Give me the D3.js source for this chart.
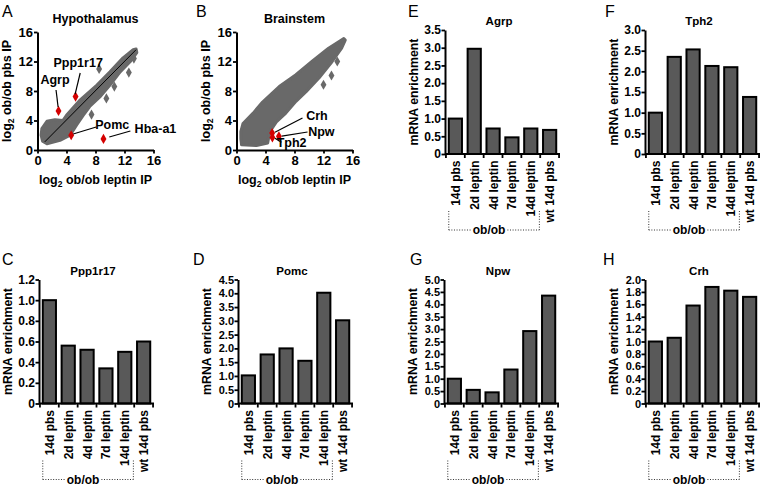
<!DOCTYPE html>
<html><head><meta charset="utf-8">
<script src="https://cdn.jsdelivr.net/npm/d3@7"></script>
<style>body{margin:0;background:#fff} text{font-family:Arial,"Liberation Sans",sans-serif}</style>
</head><body><svg id="c" width="760" height="489"></svg>
<script>
// ---------- data ----------
const categories = ["14d pbs","2d leptin","4d leptin","7d leptin","14d leptin","wt 14d pbs"];
const groupLabel = "ob/ob";
const agrpValues    = [1.0, 2.97, 0.72, 0.47, 0.72, 0.68];
const tph2Values    = [1.0, 2.35, 2.53, 2.13, 2.10, 1.38];
const ppp1r17Values = [1.0, 0.56, 0.52, 0.34, 0.50, 0.60];
const pomcValues    = [1.02, 1.78, 2.0, 1.55, 4.02, 3.02];
const npwValues     = [1.0, 0.55, 0.45, 1.37, 2.92, 4.35];
const crhValues     = [1.0, 1.06, 1.58, 1.88, 1.82, 1.72];
const scatterTicks = [0, 4, 8, 12, 16];

// scatter: outline of the dense point cloud (x = leptin IP, y = pbs IP, log2)
const hypoCloud = [[13.6,13.7],[13.2,13.6],[11.8,12.5],[10.0,10.6],[8.2,8.8],[5.9,6.8],[4.0,4.7],[3.5,4.0],[2.4,4.1],[1.3,3.9],[0.6,2.9],[0.5,2.0],[0.7,1.2],[1.3,0.85],[3.1,1.3],[4.5,2.0],[5.4,3.4],[6.3,4.7],[7.2,5.9],[8.6,7.2],[10.0,8.8],[11.4,10.6],[12.8,12.0],[13.7,13.2]];
const hypoOutliers = [[8.5,11.0],[12.6,10.5],[10.6,8.6],[9.5,7.0],[7.45,4.8],[13.3,12.4]];
const hypoGenes = ["Agrp","Ppp1r17","Pomc","Hba-a1"];
const hypoGeneX = [2.9, 5.25, 4.65, 9.1];
const hypoGeneY = [5.3, 7.25, 2.0, 1.5];
const hypoFit = [[1.0,1.1],[13.6,13.6]];

const brainCloud = [[14.8,15.1],[12.7,13.8],[10.4,12.0],[8.2,10.2],[5.9,8.6],[3.6,6.5],[2.3,5.0],[0.9,3.6],[0.6,2.5],[0.6,1.5],[0.7,0.7],[2.75,0.6],[4.3,0.95],[4.6,2.5],[5.5,3.8],[6.8,5.0],[8.2,6.6],[9.6,7.9],[11.4,9.8],[13.2,12.0],[14.5,13.8],[15.0,14.9]];
const brainOutliers = [[12.0,8.85],[13.1,10.1],[13.9,12.0]];
const brainGenes = ["Crh","Npw","Tph2"];
const brainGeneX = [4.92, 5.85, 4.95];
const brainGeneY = [2.3, 1.85, 1.7];

// label placement in data units: [textX, textY, lineX1, lineY1, lineX2, lineY2]
const hypoLabelPos = [[2.42,8.95,2.56,8.14,2.84,5.83],[5.61,11.25,5.89,10.44,5.19,7.59],[10.32,2.85,8.10,3.12,4.92,2.17],[16.27,2.31,12.81,2.58,9.90,1.76]];
const brainLabelPos = [[11.1,4.07,9.1,4.34,5.3,2.4],[11.7,1.95,9.8,2.44,6.25,1.88],[7.6,0.4,6.2,1.05,5.3,1.6]];

// ---------- drawing ----------
const svg = d3.select("#c");
svg.append("rect").attr("width",760).attr("height",489).attr("fill","#fff");
const BAR_FILL = "#595959", CLOUD = "#696969", RED = "#d40000";
const FF = 'Arial,"Liberation Sans",sans-serif';

function letter(t, x, y){
  svg.append("text").attr("x",x).attr("y",y).attr("font-size",16).attr("fill","#000").text(t);
}
function log2Title(g, x, y, rest, rotate){
  const t = g.append("text").attr("text-anchor","middle").attr("font-weight","bold").attr("font-size",12.5)
    .attr("transform", `translate(${x},${y})` + (rotate ? " rotate(-90)" : ""));
  t.append("tspan").text("log");
  t.append("tspan").attr("font-size",8.5).attr("dy",3).text("2");
  t.append("tspan").attr("dy",-3).text(" " + rest);
}

function scatterPanel(o){
  const g = svg.append("g");
  const x = d3.scaleLinear().domain([0,16]).range([o.x0, o.x0+116]);
  const y = d3.scaleLinear().domain([0,16]).range([150, 32]);
  const line = d3.line().x(d=>x(d[0])).y(d=>y(d[1])).curve(d3.curveLinearClosed);
  g.append("path").attr("d", line(o.cloud)).attr("fill",CLOUD).attr("stroke",CLOUD)
    .attr("stroke-width",3).attr("stroke-linejoin","round");
  const sym = d3.symbol(d3.symbolDiamond, 30);
  g.selectAll(".out").data(o.outliers).join("path").attr("d",sym)
    .attr("transform",d=>`translate(${x(d[0])},${y(d[1])})`).attr("fill",CLOUD);
  if (o.fit) g.append("path").attr("d", d3.line().x(d=>x(d[0])).y(d=>y(d[1]))(o.fit))
    .attr("stroke","#000").attr("stroke-width",1).attr("fill","none");
  g.selectAll(".hl").data(o.genes).join("path").attr("d",sym)
    .attr("transform",(d,i)=>`translate(${x(o.gx[i])},${y(o.gy[i])})`).attr("fill",RED);
  o.genes.forEach((gn,i)=>{
    const p = o.lab[i];
    g.append("line").attr("x1",x(p[2])).attr("y1",y(p[3])).attr("x2",x(p[4])).attr("y2",y(p[5]))
      .attr("stroke","#000").attr("stroke-width",1.2);
    g.append("text").attr("x",x(p[0])).attr("y",y(p[1])).attr("text-anchor","middle")
      .attr("font-weight","bold").attr("font-size",12.5).text(gn);
  });
  const ya = g.append("g").attr("transform",`translate(${o.x0},0)`)
    .call(d3.axisLeft(y).tickValues(scatterTicks).tickSize(3.5).tickPadding(1).tickSizeOuter(0));
  const xa = g.append("g").attr("transform",`translate(0,150)`)
    .call(d3.axisBottom(x).tickValues(scatterTicks).tickSize(3.5).tickPadding(2).tickSizeOuter(0));
  [ya,xa].forEach(a=>{
    a.select(".domain").attr("stroke-width",2).attr("stroke","#000");
    a.selectAll(".tick line").attr("stroke-width",1.8).attr("stroke","#000");
    a.selectAll("text").attr("font-size",13).attr("font-weight","bold").attr("fill","#000").attr("font-family",FF);
  });
  g.append("text").attr("x",(o.x0+o.x0+116)/2).attr("y",23).attr("text-anchor","middle")
    .attr("font-weight","bold").attr("font-size",12.5).text(o.title);
  log2Title(g, o.x0+58, 184, "ob/ob leptin IP", false);
  log2Title(g, o.x0-27, 91, "ob/ob pbs IP", true);
}

function barPanel(o){
  const g = svg.append("g");
  const x = d3.scaleBand().domain(categories).range([o.x0, o.x0+115]).paddingInner(0.3).paddingOuter(0.2);
  const y = d3.scaleLinear().domain([0,o.max]).range([o.y0, o.y0-124]);
  const n = Math.round(o.max/o.step);
  const ticks = d3.range(0,n+1).map(i=>+(i*o.step).toFixed(2));
  const tickFont = n > 8 ? 11 : 12;
  const bw = x.bandwidth();
  g.selectAll("rect").data(o.values).join("rect")
    .attr("x",(d,i)=>x(categories[i])).attr("y",d=>y(d))
    .attr("width",bw).attr("height",d=>o.y0-y(d))
    .attr("fill",BAR_FILL).attr("stroke","#000").attr("stroke-width",2);
  const ya = g.append("g").attr("transform",`translate(${o.x0},0)`)
    .call(d3.axisLeft(y).tickValues(ticks).tickFormat(d=>d===0?"0":d.toFixed(1))
      .tickSize(3.5).tickPadding(0.5).tickSizeOuter(0));
  ya.select(".domain").attr("stroke-width",2).attr("stroke","#000");
  ya.selectAll(".tick line").attr("stroke-width",1.8).attr("stroke","#000");
  ya.selectAll("text").attr("font-size",tickFont).attr("font-weight","bold").attr("fill","#000").attr("font-family",FF);
  // x axis
  const r = x.range();
  g.append("line").attr("x1",r[0]).attr("x2",r[1]).attr("y1",o.y0).attr("y2",o.y0)
    .attr("stroke","#000").attr("stroke-width",2);
  const b0 = x(categories[0]) - x.step()*x.paddingInner()/2;
  const bounds = d3.range(0,categories.length+1).map(i=>b0 + i*x.step());
  g.selectAll(".xt").data(bounds).join("line").attr("x1",d=>d).attr("x2",d=>d)
    .attr("y1",o.y0).attr("y2",o.y0+4).attr("stroke","#000").attr("stroke-width",1.8);
  g.selectAll(".cl").data(categories).join("text")
    .attr("transform",d=>`translate(${x(d)+bw/2+4.5},${o.y0+6.5}) rotate(-90)`)
    .attr("text-anchor","end").attr("font-weight","bold").attr("font-size",12).text(d=>d);
  // bracket
  const left = x(categories[0]), right = x(categories[4])+bw+2;
  const yb = o.y0+76, yt = o.y0+57;
  const cx = (left+right)/2-5;
  const lbl = g.append("text").attr("x",cx).attr("y",yb+4).attr("text-anchor","middle")
    .attr("font-weight","bold").attr("font-size",12).text(groupLabel);
  const w = lbl.node().getComputedTextLength();
  const segs = [[left,yt,left,yb],[right,yt,right,yb],[left,yb,cx-w/2-2,yb],[cx+w/2+2,yb,right,yb]];
  segs.forEach(s=>{
    g.append("line").attr("x1",s[0]).attr("y1",s[1]).attr("x2",s[2]).attr("y2",s[3])
      .attr("stroke","#333").attr("stroke-width",1).attr("stroke-dasharray","1,1.6");
  });
  g.append("text").attr("x",o.x0+54).attr("y",o.y0-129).attr("text-anchor","middle")
    .attr("font-weight","bold").attr("font-size",11.5).text(o.title);
  g.append("text").attr("transform",`translate(${o.x0-31},${o.y0-62}) rotate(-90)`)
    .attr("dy","0.35em").attr("text-anchor","middle").attr("font-weight","bold")
    .attr("font-size",12.3).text("mRNA enrichment");
}

scatterPanel({x0:37.5, title:"Hypothalamus", cloud:hypoCloud, outliers:hypoOutliers, fit:hypoFit,
  genes:hypoGenes, gx:hypoGeneX, gy:hypoGeneY, lab:hypoLabelPos});
scatterPanel({x0:236.5, title:"Brainstem", cloud:brainCloud, outliers:brainOutliers, fit:null,
  genes:brainGenes, gx:brainGeneX, gy:brainGeneY, lab:brainLabelPos});

barPanel({x0:445, y0:154, max:3.5, step:0.5, values:agrpValues, title:"Agrp"});
barPanel({x0:645, y0:154, max:3.0, step:0.5, values:tph2Values, title:"Tph2"});
barPanel({x0:39, y0:403.5, max:1.2, step:0.2, values:ppp1r17Values, title:"Ppp1r17"});
barPanel({x0:238, y0:403.5, max:4.5, step:0.5, values:pomcValues, title:"Pomc"});
barPanel({x0:444, y0:403.5, max:5.0, step:0.5, values:npwValues, title:"Npw"});
barPanel({x0:645, y0:403.5, max:2.0, step:0.2, values:crhValues, title:"Crh"});

letter("A",2,17); letter("B",196,17); letter("E",408,17); letter("F",605,17);
letter("C",2,265); letter("D",193,265); letter("G",410,265); letter("H",603,265);
</script></body></html>
